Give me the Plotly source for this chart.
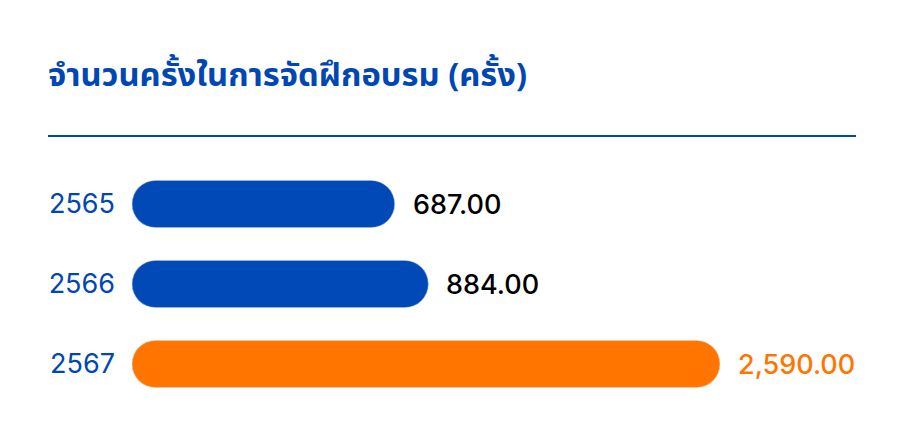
import plotly.graph_objects as go

# ข้อมูลจากภาพ
years = ["2565", "2566", "2567"]
counts = [687, 884, 2590]
labels = ["687.00", "884.00", "2,590.00"]
bar_colors = ["#0049B7", "#0049B7", "#FF7500"]
label_colors = ["#000000", "#000000", "#FF7500"]

title_text = "จำนวนครั้งในการจัดฝึกอบรม (ครั้ง)"

# หน้า html มีขอบ 8px จึงลดขนาดรูปลง
W, H = 896, 428
ML, MR, MT, MB = 124, 48, 156, 32
BASE = -850          # จุดเริ่มของแท่ง (แกน x)
X_MAX = 3386
BLUE = "#0047B3"
NUM_FONT = "Inter, Liberation Sans, sans-serif"

pos = list(range(len(years)))

fig = go.Figure()

# แท่งหลัก: ปลายขวามน
fig.add_trace(go.Bar(
    y=pos, x=[c - BASE for c in counts], base=[BASE] * len(counts), orientation="h",
    marker=dict(color=bar_colors, cornerradius="50%"), width=0.59,
    hoverinfo="skip", showlegend=False,
))
# แท่งซ้อนย้อนกลับ: ปลายซ้ายมน
fig.add_trace(go.Bar(
    y=pos, x=[BASE - c for c in counts], base=counts, orientation="h",
    marker=dict(color=bar_colors, cornerradius="50%"), width=0.59,
    hoverinfo="skip", showlegend=False,
))

for p, c, lab, col in zip(pos, counts, labels, label_colors):
    fig.add_annotation(
        x=c, y=p, text=lab, showarrow=False, xanchor="left", xshift=16,
        font=dict(family=NUM_FONT, size=27, color=col, weight=500),
    )

plot_w = W - ML - MR
line_y = 1 + (MT - 128) / (H - MT - MB)
fig.add_shape(
    type="line", xref="paper", yref="paper",
    x0=(40 - ML) / plot_w, x1=1, y0=line_y, y1=line_y,
    line=dict(color=BLUE, width=2),
)

fig.update_layout(
    width=W, height=H,
    margin=dict(l=ML, r=MR, t=MT, b=MB),
    barmode="overlay",
    paper_bgcolor="white", plot_bgcolor="white",
    title=dict(
        text=title_text, xref="container", yref="container",
        x=40 / W, y=1 - 67 / H, xanchor="left", yanchor="middle",
        font=dict(family="Noto Sans Thai, Noto Sans, sans-serif", size=32.7, color=BLUE, weight=700),
    ),
    xaxis=dict(range=[BASE, X_MAX], visible=False, fixedrange=True),
    yaxis=dict(
        range=[len(years) - 0.5, -0.5], tickvals=pos, ticktext=years,
        showgrid=False, zeroline=False, showline=False,
        ticks="", ticklabelstandoff=16,
        tickfont=dict(family=NUM_FONT, size=27, color=BLUE),
        fixedrange=True,
    ),
)

fig.write_html("out.html", config={"displayModeBar": False})
